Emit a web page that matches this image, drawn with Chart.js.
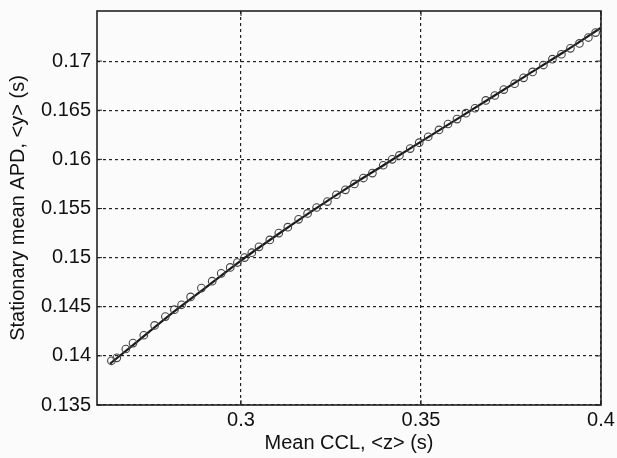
<!DOCTYPE html>
<html>
<head>
<meta charset="utf-8">
<script src="https://cdn.jsdelivr.net/npm/chart.js@4/dist/chart.umd.min.js"></script>
<style>
  html, body { margin: 0; padding: 0; background: #fbfbfb; }
  #wrap { width: 617px; height: 458px; }
</style>
</head>
<body>
<div id="wrap"><canvas id="c"></canvas></div>
<script>
// fitted curve, mean CCL <z> vs stationary mean APD <y>
const fitZ = [0.2636, 0.27, 0.28, 0.29, 0.30, 0.31, 0.32, 0.33, 0.34, 0.35, 0.36, 0.37, 0.38, 0.39, 0.40];
const fitY = [0.1392, 0.1411, 0.1441, 0.1469, 0.1497, 0.1523, 0.1548, 0.1572, 0.1595, 0.1618, 0.1641, 0.1664, 0.1687, 0.1710, 0.1734];

// simulated points (circles)
const simZ = [0.2640, 0.2655, 0.2680, 0.2700, 0.2730, 0.2760, 0.2790, 0.2815, 0.2835, 0.2860,
              0.2890, 0.2920, 0.2945, 0.2970, 0.2990, 0.3010, 0.3030, 0.3050, 0.3080, 0.3105,
              0.3130, 0.3160, 0.3185, 0.3210, 0.3240, 0.3265, 0.3290, 0.3315, 0.3340, 0.3365,
              0.3395, 0.3420, 0.3440, 0.3470, 0.3495, 0.3520, 0.3550, 0.3575, 0.3600, 0.3625,
              0.3650, 0.3680, 0.3705, 0.3730, 0.3760, 0.3785, 0.3810, 0.3840, 0.3865, 0.3890,
              0.3915, 0.3940, 0.3965, 0.3985];
const simY = [0.1395, 0.1398, 0.1407, 0.1413, 0.1421, 0.1431, 0.1440, 0.1447, 0.1452, 0.1460,
              0.1469, 0.1476, 0.1484, 0.1490, 0.1495, 0.1500, 0.1505, 0.1511, 0.1518, 0.1525,
              0.1531, 0.1539, 0.1545, 0.1551, 0.1557, 0.1564, 0.1569, 0.1575, 0.1581, 0.1586,
              0.1594, 0.1600, 0.1604, 0.1611, 0.1617, 0.1623, 0.1630, 0.1636, 0.1641, 0.1647,
              0.1652, 0.1660, 0.1665, 0.1671, 0.1677, 0.1683, 0.1689, 0.1696, 0.1702, 0.1707,
              0.1713, 0.1718, 0.1724, 0.1729];

const xTicks = [0.3, 0.35, 0.4];
const yTicks = [0.135, 0.14, 0.145, 0.15, 0.155, 0.16, 0.165, 0.17];

const toPts = (xs, ys) => xs.map((x, i) => ({ x: x, y: ys[i] }));
const FONT = "'Liberation Sans', Arial, sans-serif";
const INK = '#111';

// box around the plot + small inward ticks on all four sides (matlab style)
const boxPlugin = {
  id: 'box',
  afterDatasetsDraw(chart) {
    const { ctx, chartArea: a, scales } = chart;
    ctx.save();
    ctx.strokeStyle = '#222';
    ctx.lineWidth = 1.6;
    ctx.strokeRect(a.left, a.top, a.right - a.left, a.bottom - a.top);
    ctx.lineWidth = 1;
    ctx.beginPath();
    const tl = 5;
    xTicks.forEach(v => {
      const px = scales.x.getPixelForValue(v);
      ctx.moveTo(px, a.bottom); ctx.lineTo(px, a.bottom - tl);
      ctx.moveTo(px, a.top); ctx.lineTo(px, a.top + tl);
    });
    yTicks.forEach(v => {
      const py = scales.y.getPixelForValue(v);
      ctx.moveTo(a.left, py); ctx.lineTo(a.left + tl, py);
      ctx.moveTo(a.right, py); ctx.lineTo(a.right - tl, py);
    });
    ctx.stroke();
    ctx.restore();
  }
};

new Chart(document.getElementById('c'), {
  type: 'scatter',
  data: {
    datasets: [
      {
        label: 'sim',
        data: toPts(simZ, simY),
        pointStyle: 'circle',
        pointRadius: 3.8,
        pointBorderWidth: 1.1,
        pointBorderColor: '#444',
        pointBackgroundColor: 'rgba(0,0,0,0)',
        showLine: false
      },
      {
        label: 'fit',
        data: toPts(fitZ, fitY),
        showLine: true,
        borderColor: '#1a1a1a',
        borderWidth: 2.2,
        pointRadius: 0,
        cubicInterpolationMode: 'monotone'
      }
    ]
  },
  options: {
    responsive: true,
    maintainAspectRatio: false,
    animation: false,
    layout: { padding: { top: 11, right: 16, left: 0, bottom: 0 } },
    plugins: { legend: { display: false }, tooltip: { enabled: false } },
    scales: {
      x: {
        type: 'linear',
        min: 0.26,
        max: 0.4,
        afterBuildTicks: s => { s.ticks = xTicks.map(v => ({ value: v })); },
        afterFit: s => { s.height = 53; s.paddingLeft = 0; s.paddingRight = 0; },
        ticks: {
          color: INK,
          font: { family: FONT, size: 20 },
          padding: 3,
          maxRotation: 0,
          callback: v => String(+v.toFixed(3))
        },
        grid: { color: '#222', lineWidth: 1.2, drawTicks: false },
        border: { display: false, dash: [3, 3] },
        title: {
          display: true,
          text: 'Mean CCL, <z> (s)',
          color: INK,
          font: { family: FONT, size: 20 },
          padding: { top: 0, bottom: 3 }
        }
      },
      y: {
        type: 'linear',
        min: 0.135,
        max: 0.1751,
        afterBuildTicks: s => { s.ticks = yTicks.map(v => ({ value: v })); },
        afterFit: s => { s.width = 97; s.paddingTop = 0; s.paddingBottom = 0; },
        ticks: {
          color: INK,
          font: { family: FONT, size: 20 },
          padding: 6,
          callback: v => String(+v.toFixed(3))
        },
        grid: { color: '#222', lineWidth: 1.2, drawTicks: false },
        border: { display: false, dash: [3, 3] },
        title: {
          display: true,
          text: 'Stationary mean APD, <y> (s)',
          color: INK,
          font: { family: FONT, size: 20 },
          padding: { top: 6, bottom: 0 }
        }
      }
    }
  },
  plugins: [boxPlugin]
});
</script>
</body>
</html>
